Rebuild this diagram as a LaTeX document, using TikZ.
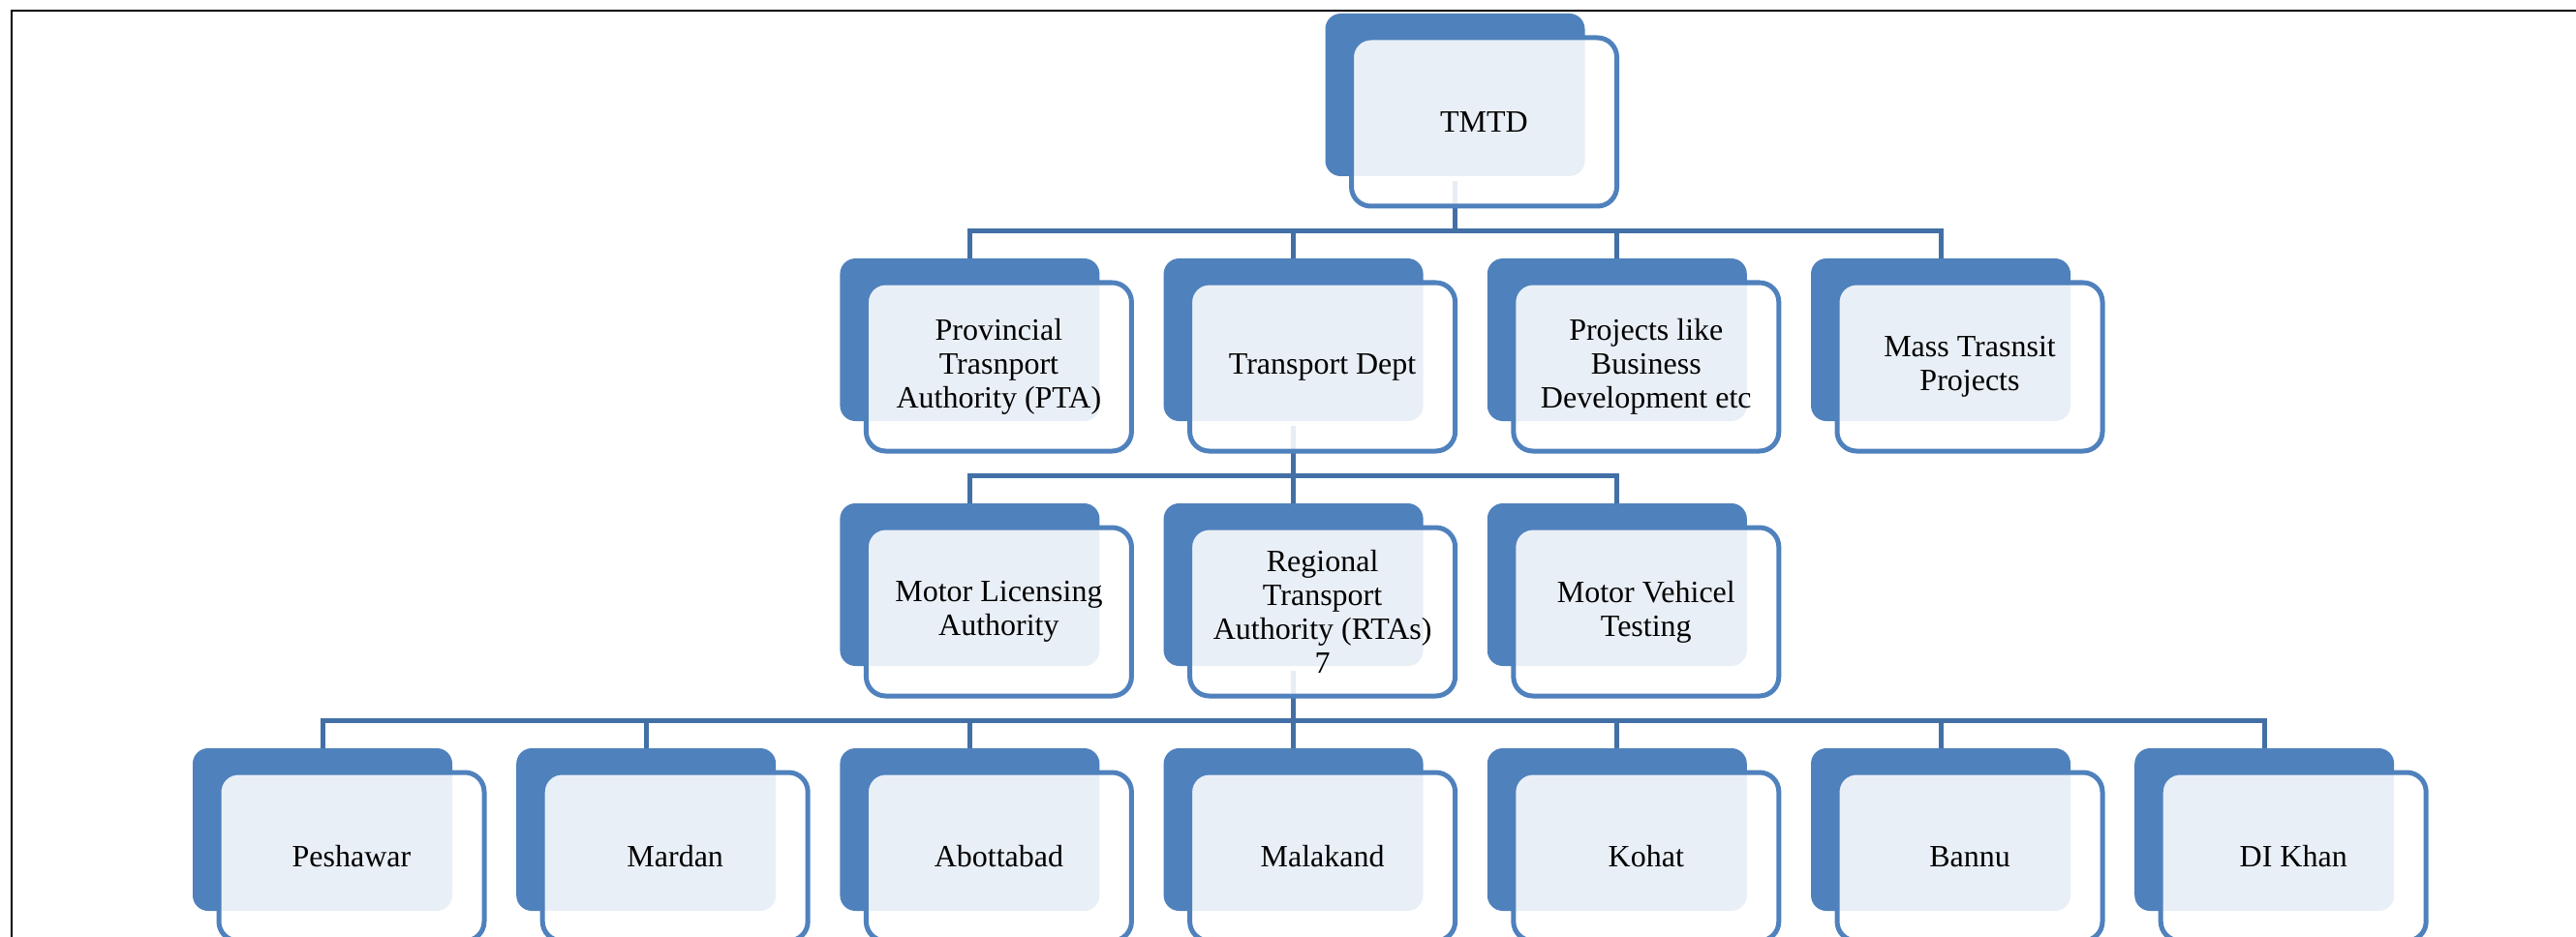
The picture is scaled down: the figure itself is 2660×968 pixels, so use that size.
\documentclass[tikz,border=0pt]{standalone}
\usepackage{fontspec}
\setmainfont{Liberation Serif}
\definecolor{boxblue}{HTML}{4F81BD}
\definecolor{linkblue}{HTML}{4270A6}
\tikzset{
  backbox/.style={draw=none, fill=boxblue, rounded corners=16pt,
    minimum width=268pt, minimum height=168pt, inner sep=0pt},
  frontbox/.style={draw=boxblue, line width=5pt, fill=white, fill opacity=0.88,
    text opacity=1, rounded corners=20pt, minimum width=274pt,
    minimum height=174pt, inner sep=0pt, align=center,
    font=\fontsize{32}{35}\selectfont},
  link/.style={draw=linkblue, line width=5pt, line join=miter},
  frame/.style={draw=black, line width=2.5pt},
}
\begin{document}
\begin{tikzpicture}[x=1pt, y=-1pt]
  \clip (0,0) rectangle (2660,968);
  \fill[white] (0,0) rectangle (2660,968);
  % outer frame (top and left edges)
  \draw[frame] (12,990) -- (12,11) -- (2680,11);

  % back panels
  \node[backbox] (b0) at (1502.5,98) {};
  \node[backbox] (bpta)  at (1001.4,351) {};
  \node[backbox] (btd)   at (1335.6,351) {};
  \node[backbox] (bproj) at (1669.8,351) {};
  \node[backbox] (bmass) at (2004.0,351) {};
  \node[backbox] (bmla)  at (1001.4,604) {};
  \node[backbox] (brta)  at (1335.6,604) {};
  \node[backbox] (bmvt)  at (1669.8,604) {};
  \node[backbox] (bpes)  at (333.0,857) {};
  \node[backbox] (bmar)  at (667.2,857) {};
  \node[backbox] (babo)  at (1001.4,857) {};
  \node[backbox] (bmal)  at (1335.6,857) {};
  \node[backbox] (bkoh)  at (1669.8,857) {};
  \node[backbox] (bban)  at (2004.0,857) {};
  \node[backbox] (bdik)  at (2338.2,857) {};

  % connectors
  \foreach \c in {bpta,btd,bproj,bmass}
    \draw[link] ([yshift=-5pt]b0.south) |- ([yshift=28pt]\c.north) -- (\c.north);
  \foreach \c in {bmla,brta,bmvt}
    \draw[link] ([yshift=-5pt]btd.south) |- ([yshift=28pt]\c.north) -- (\c.north);
  \foreach \c in {bpes,bmar,babo,bmal,bkoh,bban,bdik}
    \draw[link] ([yshift=-5pt]brta.south) |- ([yshift=28pt]\c.north) -- (\c.north);

  % front panels with labels
  \node[frontbox] (f0) at (1532.5,126) {TMTD};
  \node[frontbox] (fpta)  at (1031.4,379) {Provincial\\Trasnport\\Authority (PTA)};
  \node[frontbox] (ftd)   at (1365.6,379) {Transport Dept};
  \node[frontbox] (fproj) at (1699.8,379) {Projects like\\Business\\Development etc};
  \node[frontbox] (fmass) at (2034.0,379) {Mass Trasnsit\\Projects};
  \node[frontbox] (fmla)  at (1031.4,632) {Motor Licensing\\Authority};
  \node[frontbox] (frta)  at (1365.6,632) {Regional\\Transport\\Authority (RTAs)\\7};
  \node[frontbox] (fmvt)  at (1699.8,632) {Motor Vehicel\\Testing};
  \node[frontbox] (fpes)  at (363.0,885) {Peshawar};
  \node[frontbox] (fmar)  at (697.2,885) {Mardan};
  \node[frontbox] (fabo)  at (1031.4,885) {Abottabad};
  \node[frontbox] (fmal)  at (1365.6,885) {Malakand};
  \node[frontbox] (fkoh)  at (1699.8,885) {Kohat};
  \node[frontbox] (fban)  at (2034.0,885) {Bannu};
  \node[frontbox] (fdik)  at (2368.2,885) {DI Khan};
\end{tikzpicture}
\end{document}
